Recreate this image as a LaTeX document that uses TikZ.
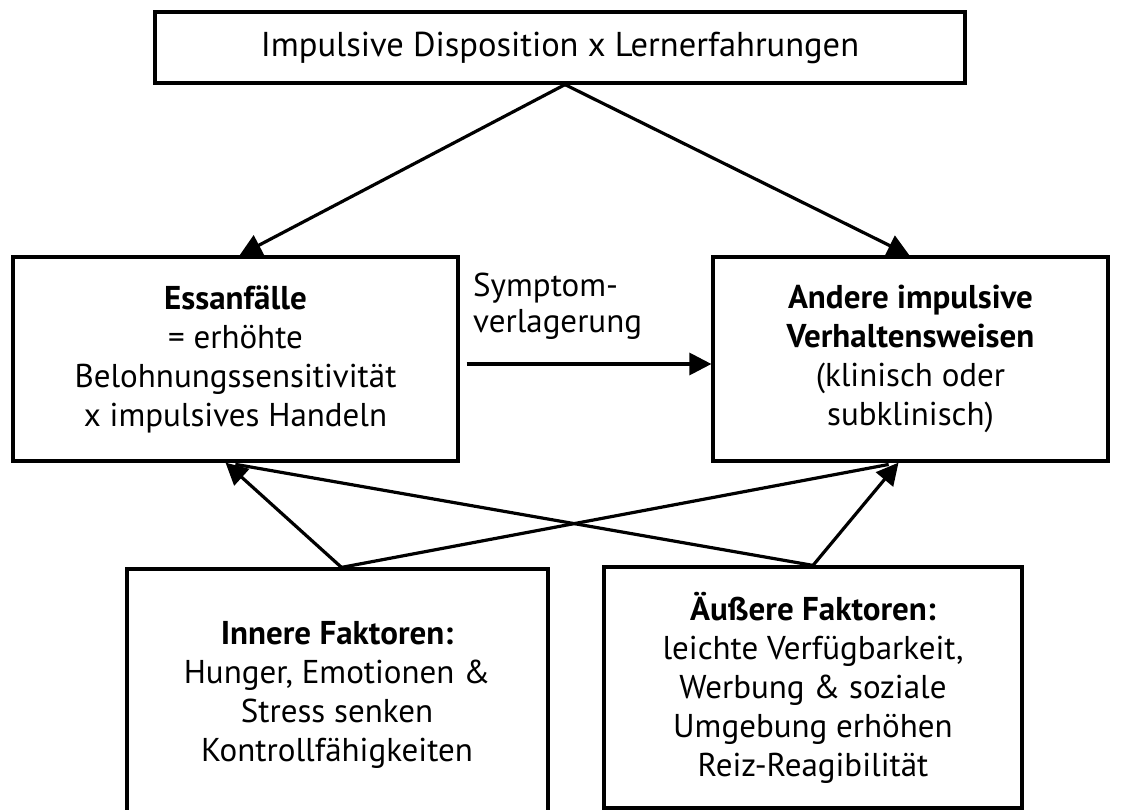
\documentclass[tikz,border=0pt]{standalone}
\usepackage{fontspec}
\setmainfont{PT Sans}
\usetikzlibrary{arrows.meta,calc}
\begin{document}
\begin{tikzpicture}[x=1pt,y=-1pt,
  box/.style={draw, line width=3.2pt, inner sep=0pt, align=center,
    font=\fontsize{33}{39}\selectfont},
  txt/.style={align=center, inner sep=0pt, font=\fontsize{33}{39}\selectfont},
  arr/.style={line width=3.2pt, -{Triangle[length=22pt,width=22pt]}},
  ln/.style={line width=3.2pt}]
\useasboundingbox (0,0) rectangle (1122,810);
\clip (0,0) rectangle (1122,810);

% boxes
\node[box, minimum width=810, minimum height=71, font=\fontsize{34.5}{39}\selectfont] (top) at (560,47.5)
  {Impulsive Disposition x Lernerfahrungen};
\node[box, minimum width=445, minimum height=204] (left) at (235.5,359)
  {\textbf{Essanfälle}\\= erhöhte\\Belohnungssensitivität\\x impulsives Handeln};
\node[box, minimum width=395, minimum height=204] (right) at (910.5,359)
  {\textbf{Andere impulsive}\\\textbf{Verhaltensweisen}\\(klinisch oder\\subklinisch)};
\node[box, minimum width=421, minimum height=271] (inner) at (337.5,704.5) {};
\node[txt] (innertext) at (337,695)
  {\textbf{Innere Faktoren:}\\Hunger, Emotionen \&\\Stress senken\\Kontrollfähigkeiten};
\node[box, minimum width=418, minimum height=241] (outer) at (813,687.5)
  {\textbf{Äußere Faktoren:}\\leichte Verfügbarkeit,\\Werbung \& soziale\\Umgebung erhöhen\\Reiz-Reagibilität};

% label of the horizontal arrow
\node[txt, anchor=west, align=left, font=\fontsize{33}{36}\selectfont] (shift)
  at (473,306) {Symptom-\\verlagerung};

% connectors
\draw[arr] ([xshift=5pt]top.south) -- ([xshift=4pt]left.north);
\draw[arr] ([xshift=5pt]top.south) -- ([xshift=-1pt]right.north);
\draw[arr] ([shift={(7pt,-5pt)}]left.east) -- ([yshift=-5pt]right.west);

\draw[ln, shorten >=10pt] ([xshift=4pt]inner.north) -- ([xshift=-12pt]right.south);
\draw[ln, shorten >=10pt] (outer.north) -- ([xshift=-10pt]left.south);
\draw[arr] ([xshift=4pt]inner.north) -- ([xshift=-10pt]left.south);
\draw[arr] (outer.north) -- ([xshift=-12pt]right.south);
\end{tikzpicture}
\end{document}
